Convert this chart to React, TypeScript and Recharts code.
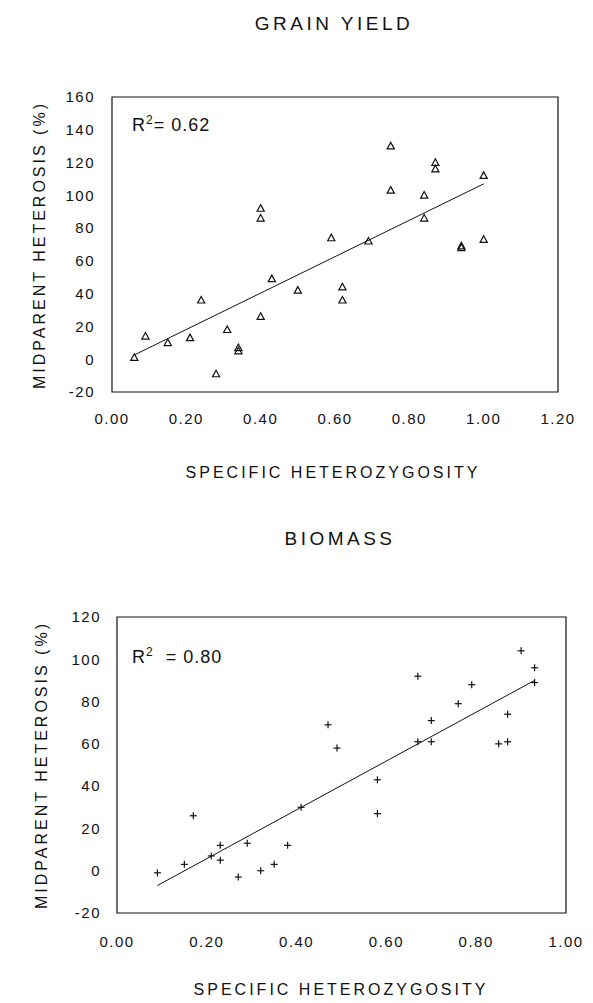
import {
  ScatterChart,
  Scatter,
  XAxis,
  YAxis,
  ReferenceArea,
  ReferenceLine,
} from 'recharts';

// grain yield panel
const grainX = [0.06, 0.09, 0.15, 0.21, 0.24, 0.28, 0.31, 0.34, 0.34, 0.40, 0.40, 0.40, 0.43, 0.50, 0.59, 0.62, 0.62, 0.69, 0.75, 0.75, 0.84, 0.84, 0.87, 0.87, 0.94, 0.94, 1.00, 1.00];
const grainY = [1, 14, 10, 13, 36, -9, 18, 7, 5, 92, 86, 26, 49, 42, 74, 44, 36, 72, 130, 103, 100, 86, 120, 116, 69, 68, 112, 73];
const grainFitX = [0.06, 1.0];
const grainFitY = [2.6, 107];
const grainXTicks = [0, 0.2, 0.4, 0.6, 0.8, 1.0, 1.2];
const grainYTicks = [-20, 0, 20, 40, 60, 80, 100, 120, 140, 160];

// biomass panel
const bioX = [0.09, 0.15, 0.17, 0.21, 0.23, 0.23, 0.27, 0.29, 0.32, 0.35, 0.38, 0.41, 0.47, 0.49, 0.58, 0.58, 0.67, 0.67, 0.70, 0.70, 0.76, 0.79, 0.85, 0.87, 0.87, 0.90, 0.93, 0.93];
const bioY = [-1, 3, 26, 7, 12, 5, -3, 13, 0, 3, 12, 30, 69, 58, 43, 27, 92, 61, 71, 61, 79, 88, 60, 61, 74, 104, 96, 89];
const bioFitX = [0.09, 0.93];
const bioFitY = [-7, 90];
const bioXTicks = [0, 0.2, 0.4, 0.6, 0.8, 1.0];
const bioYTicks = [-20, 0, 20, 40, 60, 80, 100, 120];

const INK = '#111';
const FONT = '"Liberation Sans", Arial, Helvetica, sans-serif';

const grainData = grainX.map((x, i) => ({ x, y: grainY[i] }));
const bioData = bioX.map((x, i) => ({ x, y: bioY[i] }));

function Triangle(props: any) {
  const { cx, cy } = props;
  if (cx == null || cy == null) return null;
  return (
    <path
      d={`M${cx},${cy - 3.8} L${cx + 3.6},${cy + 2.8} L${cx - 3.6},${cy + 2.8} Z`}
      fill="none"
      stroke={INK}
      strokeWidth={1.2}
    />
  );
}

function Cross(props: any) {
  const { cx, cy } = props;
  if (cx == null || cy == null) return null;
  return (
    <g stroke={INK} strokeWidth={1.2}>
      <line x1={cx - 3.5} y1={cy} x2={cx + 3.5} y2={cy} />
      <line x1={cx} y1={cy - 3.5} x2={cx} y2={cy + 3.5} />
    </g>
  );
}

const tickStyle = { fontSize: 15, fill: INK, fontFamily: FONT, letterSpacing: 1.5 };

function Caption({ x, y, text, size = 16, spacing = 3, rotate = false }: {
  x: number; y: number; text: string; size?: number; spacing?: number; rotate?: boolean;
}) {
  return (
    <div
      style={{
        position: 'absolute',
        left: x,
        top: y,
        transform: `translate(-50%, -50%)${rotate ? ' rotate(-90deg)' : ''}`,
        fontSize: size,
        letterSpacing: spacing,
        lineHeight: 1,
        whiteSpace: 'nowrap',
        color: INK,
      }}
    >
      {text}
    </div>
  );
}

function RSquared({ x, y, text }: { x: number; y: number; text: string }) {
  return (
    <div style={{ position: 'absolute', left: x, top: y, fontSize: 18, lineHeight: 1, letterSpacing: 1, color: INK, whiteSpace: 'pre' }}>
      R<sup style={{ fontSize: 12, lineHeight: 0, verticalAlign: 'super' }}>2</sup>{text}
    </div>
  );
}

export default function App() {
  return (
    <div style={{ position: 'absolute', left: 0, top: 0, width: 593, height: 1003, background: '#fff', fontFamily: FONT }}>
      {/* Grain yield */}
      <div style={{ position: 'absolute', left: 0, top: 0 }}>
        <ScatterChart width={593} height={440} margin={{ top: 97, right: 35, left: 52, bottom: 18 }}>
          <XAxis
            type="number"
            dataKey="x"
            domain={[0, 1.2]}
            ticks={grainXTicks}
            tickFormatter={(v: number) => v.toFixed(2)}
            axisLine={false}
            tickLine={false}
            tickSize={0}
            tickMargin={21}
            height={30}
            tick={tickStyle}
          />
          <YAxis
            type="number"
            dataKey="y"
            domain={[-20, 160]}
            ticks={grainYTicks}
            axisLine={false}
            tickLine={false}
            tickSize={0}
            tickMargin={17}
            width={60}
            tick={tickStyle}
          />
          <ReferenceArea x1={0} x2={1.2} y1={-20} y2={160} fill="none" stroke={INK} strokeWidth={1.2} ifOverflow="visible" />
          <ReferenceLine
            segment={[{ x: grainFitX[0], y: grainFitY[0] }, { x: grainFitX[1], y: grainFitY[1] }]}
            stroke={INK}
            strokeWidth={1}
            ifOverflow="visible"
          />
          <Scatter data={grainData} shape={Triangle} isAnimationActive={false} />
        </ScatterChart>
      </div>

      {/* Biomass */}
      <div style={{ position: 'absolute', left: 0, top: 520 }}>
        <ScatterChart width={593} height={480} margin={{ top: 97, right: 27, left: 57, bottom: 57 }}>
          <XAxis
            type="number"
            dataKey="x"
            domain={[0, 1]}
            ticks={bioXTicks}
            tickFormatter={(v: number) => v.toFixed(2)}
            axisLine={false}
            tickLine={false}
            tickSize={0}
            tickMargin={23}
            height={30}
            tick={tickStyle}
          />
          <YAxis
            type="number"
            dataKey="y"
            domain={[-20, 120]}
            ticks={bioYTicks}
            axisLine={false}
            tickLine={false}
            tickSize={0}
            tickMargin={16}
            width={60}
            tick={tickStyle}
          />
          <ReferenceArea x1={0} x2={1} y1={-20} y2={120} fill="none" stroke={INK} strokeWidth={1.2} ifOverflow="visible" />
          <ReferenceLine
            segment={[{ x: bioFitX[0], y: bioFitY[0] }, { x: bioFitX[1], y: bioFitY[1] }]}
            stroke={INK}
            strokeWidth={1}
            ifOverflow="visible"
          />
          <Scatter data={bioData} shape={Cross} isAnimationActive={false} />
        </ScatterChart>
      </div>

      <Caption x={334} y={23} text="GRAIN YIELD" size={19} spacing={3.5} />
      <Caption x={333} y={473} text="SPECIFIC HETEROZYGOSITY" />
      <Caption x={40} y={245} text="MIDPARENT HETEROSIS (%)" rotate />
      <RSquared x={132} y={116} text="= 0.62" />

      <Caption x={340} y={538} text="BIOMASS" size={19} spacing={3.5} />
      <Caption x={341} y={990} text="SPECIFIC HETEROZYGOSITY" />
      <Caption x={42} y={765} text="MIDPARENT HETEROSIS (%)" rotate />
      <RSquared x={132} y={648} text="  = 0.80" />
    </div>
  );
}
